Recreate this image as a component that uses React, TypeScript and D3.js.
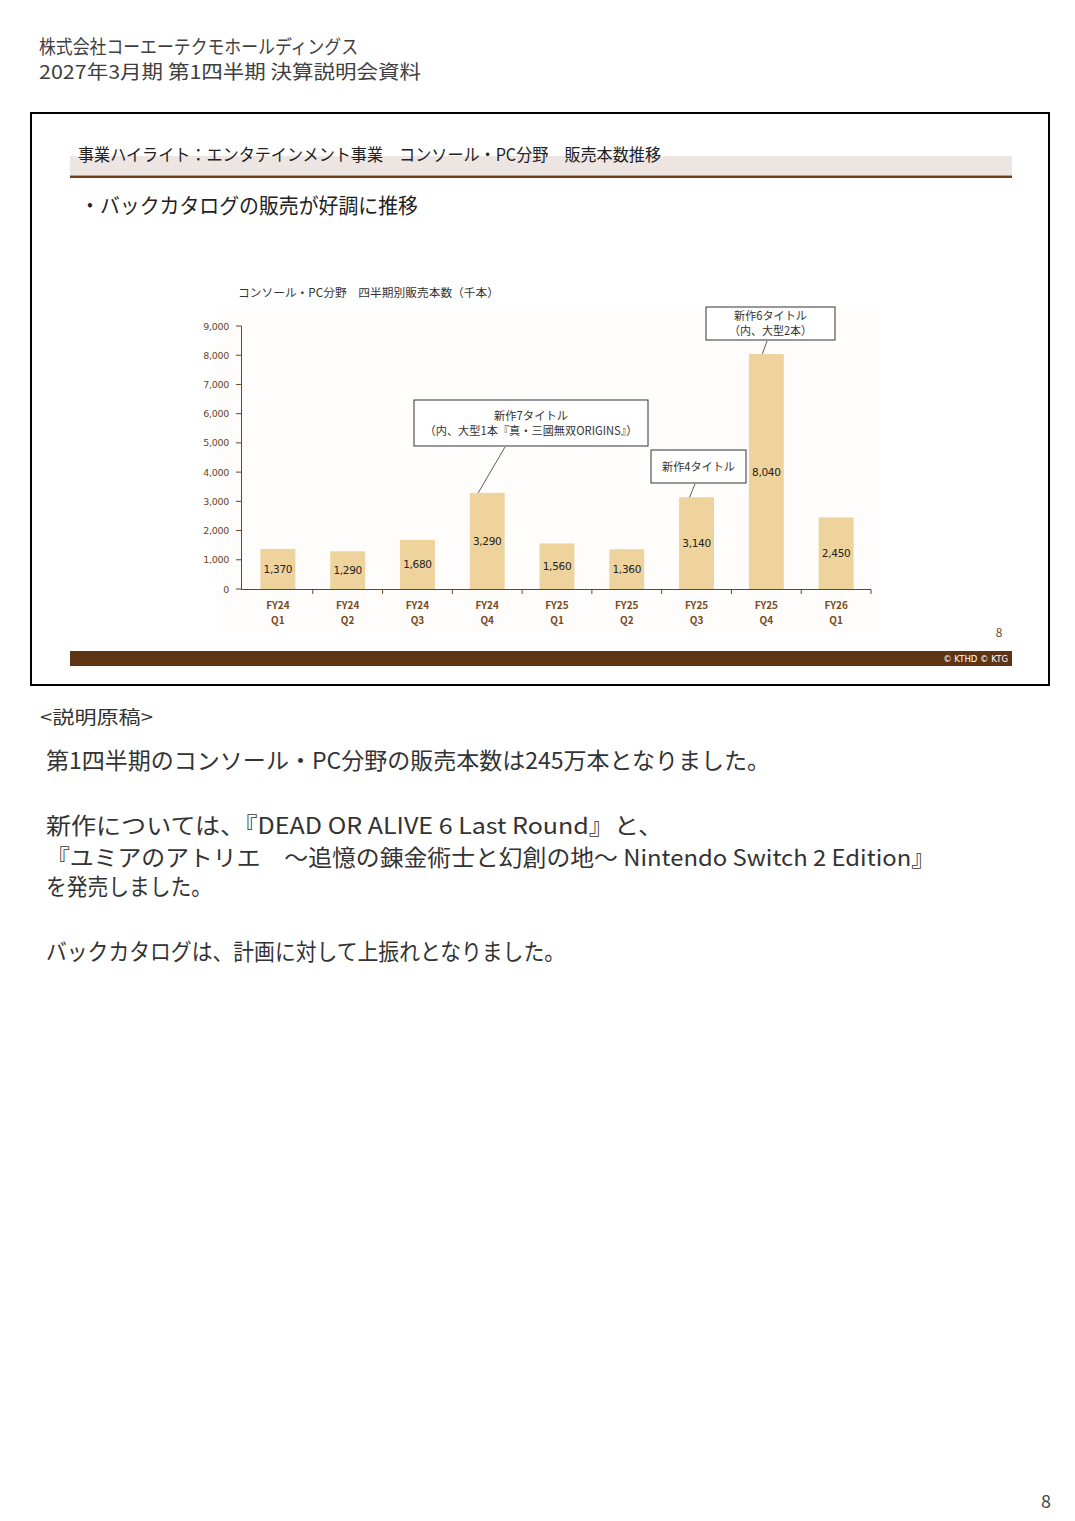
import React from "react";
import * as d3 from "d3";

const categories = ["FY24\nQ1", "FY24\nQ2", "FY24\nQ3", "FY24\nQ4", "FY25\nQ1", "FY25\nQ2", "FY25\nQ3", "FY25\nQ4", "FY26\nQ1"];
const sales = [1370, 1290, 1680, 3290, 1560, 1360, 3140, 8040, 2450];
const yTicks = [0, 1000, 2000, 3000, 4000, 5000, 6000, 7000, 8000, 9000];
const annotations = [
  { index: 3, lines: ["新作7タイトル", "（内、大型1本『真・三國無双ORIGINS』）"] },
  { index: 6, lines: ["新作4タイトル"] },
  { index: 7, lines: ["新作6タイトル", "（内、大型2本）"] },
];
const headerLines = ["株式会社コーエーテクモホールディングス", "2027年3月期 第1四半期 決算説明会資料"];
const notesLines = [
  "第1四半期のコンソール・PC分野の販売本数は245万本となりました。",
  "新作については、『DEAD OR ALIVE 6 Last Round』と、",
  "『ユミアのアトリエ　～追憶の錬金術士と幻創の地～ Nintendo Switch 2 Edition』",
  "を発売しました。",
  "バックカタログは、計画に対して上振れとなりました。",
];

const FONT = "'Noto Sans CJK JP', 'Noto Sans', sans-serif";
const BROWN = "#6b4423";
const BAR = "#eed39c";

const annLayout = [
  { x: 414, y: 400, w: 234, h: 46, lx: 505, ly: 447, dx: -9, tl: [74, 213] },
  { x: 651, y: 450, w: 95, h: 33, lx: 695, ly: 484, dx: -7, tl: [73] },
  { x: 706, y: 307, w: 129, h: 33, lx: 767, ly: 341, dx: -4, tl: [73, 83] },
];

export default function App() {
  const x = d3.scaleBand<string>().domain(categories).range([243, 871]).paddingInner(0.5).paddingOuter(0.25);
  const y = d3.scaleLinear().domain([0, 9000]).range([589, 326]);
  const fmt = d3.format(",");
  const step = x.step();

  return (
    <svg width={1075} height={1521} style={{ position: "absolute", left: 0, top: 0, background: "#fff" }} fontFamily={FONT}>
      <rect x={0} y={0} width={1075} height={1521} fill="#fff" />
      <text x={39} y={54} fontSize={19} fill="#404040" textLength={319} lengthAdjust="spacingAndGlyphs">{headerLines[0]}</text>
      <text x={39} y={79} fontSize={19} fill="#404040" textLength={382} lengthAdjust="spacingAndGlyphs">{headerLines[1]}</text>

      <rect x={31} y={113} width={1018} height={572} fill="#fff" stroke="#000" strokeWidth={2} />
      <rect x={70} y={156} width={942} height={19} fill="#ede5e1" />
      <rect x={70} y={175.5} width={942} height={2.5} fill="#6e4018" />
      <text x={78} y={161} fontSize={17} fill="#222" textLength={583} lengthAdjust="spacingAndGlyphs">事業ハイライト：エンタテインメント事業　コンソール・PC分野　販売本数推移</text>
      <text x={80} y={213} fontSize={21} fill="#222" textLength={338} lengthAdjust="spacingAndGlyphs">・バックカタログの販売が好調に推移</text>

      <rect x={215} y={310} width={665} height={322} fill="#fefdfc" />
      <text x={238} y={297} fontSize={11.5} fill="#333" textLength={261} lengthAdjust="spacingAndGlyphs">コンソール・PC分野　四半期別販売本数（千本）</text>

      {sales.map((v, i) => (
        <rect key={"b" + i} x={x(categories[i])!} y={y(v)} width={x.bandwidth()} height={y(0) - y(v)} fill={BAR} />
      ))}
      {sales.map((v, i) => (
        <text key={"v" + i} x={x(categories[i])! + x.bandwidth() / 2} y={(y(v) + y(0)) / 2 + 4} fontSize={10.5} fill="#222" textAnchor="middle" fontFamily="'DejaVu Sans', sans-serif" letterSpacing={-0.3}>{fmt(v)}</text>
      ))}

      <line x1={241.5} x2={241.5} y1={y(9000)} y2={y(0)} stroke={BROWN} strokeWidth={1} />
      {yTicks.map((t) => (
        <g key={"y" + t}>
          <line x1={236} x2={241.5} y1={y(t)} y2={y(t)} stroke={BROWN} />
          <text x={229} y={y(t) + 3.5} fontSize={9.5} fill={BROWN} textAnchor="end" fontFamily="'DejaVu Sans', sans-serif" letterSpacing={-0.3}>{fmt(t)}</text>
        </g>
      ))}
      <line x1={241} x2={871} y1={589.5} y2={589.5} stroke={BROWN} strokeWidth={1.2} />
      {categories.map((c, i) => (
        <line key={"xt" + i} x1={243 + step * (i + 1)} x2={243 + step * (i + 1)} y1={589.5} y2={594} stroke={BROWN} />
      ))}
      {categories.map((c, i) => {
        const cx = x(c)! + x.bandwidth() / 2;
        const parts = c.split("\n");
        return (
          <g key={"xl" + i}>
            <text x={cx} y={609} fontSize={10} fontWeight="bold" fill="#7a4a20" textAnchor="middle">{parts[0]}</text>
            <text x={cx} y={624} fontSize={10} fontWeight="bold" fill="#7a4a20" textAnchor="middle">{parts[1]}</text>
          </g>
        );
      })}

      {annotations.map((a, k) => {
        const L = annLayout[k];
        const bx = x(categories[a.index])! + x.bandwidth() / 2 + L.dx;
        const by = y(sales[a.index]);
        const n = a.lines.length;
        return (
          <g key={"a" + k}>
            <line x1={L.lx} y1={L.ly} x2={bx} y2={by} stroke="#333" strokeWidth={0.8} />
            <rect x={L.x} y={L.y} width={L.w} height={L.h} fill="#fff" stroke="#333" strokeWidth={1} />
            {a.lines.map((t, j) => (
              <text key={j} x={L.x + L.w / 2} y={L.y + L.h / 2 + 4 + (j - (n - 1) / 2) * 15} fontSize={11.5} fill="#333" textAnchor="middle" textLength={L.tl[j]} lengthAdjust="spacingAndGlyphs">{t}</text>
            ))}
          </g>
        );
      })}

      <text x={999} y={637} fontSize={12} fill="#6b4a30" textAnchor="middle">8</text>
      <rect x={70} y={651} width={942} height={15} fill="#5e3414" />
      <text x={1008} y={662} fontSize={8.5} fill="#fff" textAnchor="end" fontFamily="'DejaVu Sans', sans-serif">© KTHD © KTG</text>

      <text x={40} y={724} fontSize={18} fill="#333" textLength={113} lengthAdjust="spacingAndGlyphs">&lt;説明原稿&gt;</text>
      <text x={46} y={769} fontSize={22.5} fill="#333" textLength={724} lengthAdjust="spacingAndGlyphs">{notesLines[0]}</text>
      <text x={46} y={834} fontSize={22.5} fill="#333" textLength={617} lengthAdjust="spacingAndGlyphs">{notesLines[1]}</text>
      <text x={46} y={866} fontSize={22.5} fill="#333" textLength={889} lengthAdjust="spacingAndGlyphs">{notesLines[2]}</text>
      <text x={46} y={895} fontSize={22.5} fill="#333" textLength={166} lengthAdjust="spacingAndGlyphs">{notesLines[3]}</text>
      <text x={46} y={960} fontSize={22.5} fill="#333" textLength={519} lengthAdjust="spacingAndGlyphs">{notesLines[4]}</text>

      <text x={1051} y={1508} fontSize={18} fill="#444" textAnchor="end">8</text>
    </svg>
  );
}
